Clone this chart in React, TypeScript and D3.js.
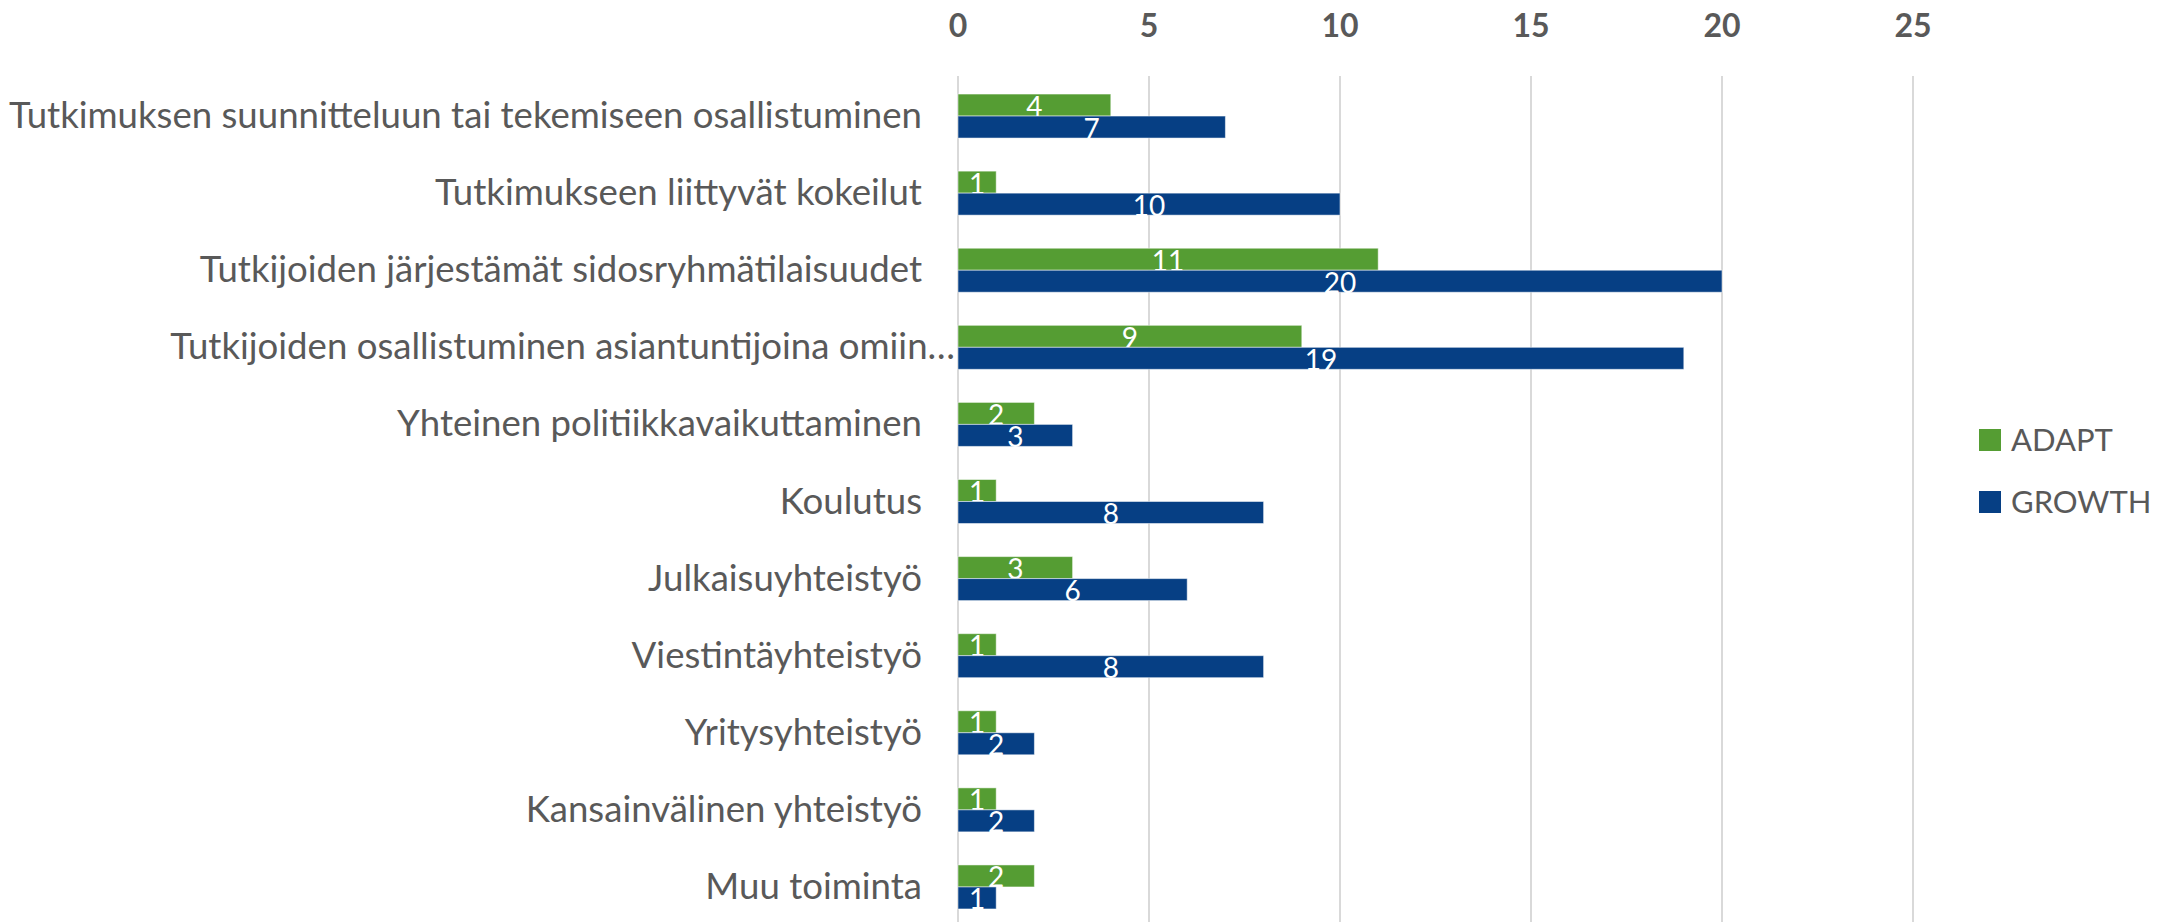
import React, { useEffect, useRef } from "react";
import * as d3 from "d3";

const categories = [
  "Tutkimuksen suunnitteluun tai tekemiseen osallistuminen",
  "Tutkimukseen liittyvät kokeilut",
  "Tutkijoiden järjestämät sidosryhmätilaisuudet",
  "Tutkijoiden osallistuminen asiantuntijoina omiin…",
  "Yhteinen politiikkavaikuttaminen",
  "Koulutus",
  "Julkaisuyhteistyö",
  "Viestintäyhteistyö",
  "Yritysyhteistyö",
  "Kansainvälinen yhteistyö",
  "Muu toiminta",
];

const adapt = [4, 1, 11, 9, 2, 1, 3, 1, 1, 1, 2];
const growth = [7, 10, 20, 19, 3, 8, 6, 8, 2, 2, 1];

const seriesNames = ["ADAPT", "GROWTH"];
const seriesColors = ["#559D33", "#063F84"];
const tickValues = [0, 5, 10, 15, 20, 25];

const App = () => {
  const svgRef = useRef<SVGSVGElement>(null);

  useEffect(() => {
    const width = 2167;
    const height = 922;
    const font = "'Source Sans Pro', Lato, sans-serif";
    const grey = "#595959";

    const svg = d3
      .select(svgRef.current)
      .attr("width", width)
      .attr("height", height)
      .style("font-family", font)
      .style("background", "#fff");

    svg.selectAll("*").remove();

    const x = d3.scaleLinear().domain([0, 25]).range([958, 1913]);
    const y = d3.scaleBand().domain(categories).range([77.5, 925.5]);
    const barBlock = 44;
    const inner = d3.scaleBand().domain(seriesNames).range([0, barBlock]);

    // gridlines
    svg
      .append("g")
      .selectAll("line")
      .data(tickValues)
      .join("line")
      .attr("x1", (d) => x(d))
      .attr("x2", (d) => x(d))
      .attr("y1", 76)
      .attr("y2", height)
      .attr("stroke", "#d9d9d9")
      .attr("stroke-width", 2);

    // tick labels on top
    svg
      .append("g")
      .selectAll("text")
      .data(tickValues)
      .join("text")
      .attr("x", (d) => x(d))
      .attr("y", 37)
      .attr("text-anchor", "middle")
      .attr("fill", grey)
      .style("font-size", "32px")
      .style("font-weight", "700")
      .text((d) => d);

    // category labels
    svg
      .append("g")
      .selectAll("text")
      .data(categories)
      .join("text")
      .attr("x", (d) => (d.endsWith("…") ? 955 : 922))
      .attr("y", (d) => y(d)! + y.bandwidth() / 2 + 12)
      .attr("text-anchor", "end")
      .attr("fill", grey)
      .style("font-size", "36.6px")
      .text((d) => d);

    const data = [adapt, growth];
    data.forEach((vals, si) => {
      const name = seriesNames[si];
      const g = svg.append("g");
      const top = (c: string) =>
        y(c)! + (y.bandwidth() - barBlock) / 2 + inner(name)!;
      g.selectAll("rect")
        .data(categories)
        .join("rect")
        .attr("x", x(0))
        .attr("y", (c) => top(c))
        .attr("width", (c, i) => x(vals[i]) - x(0))
        .attr("height", inner.bandwidth())
        .attr("fill", seriesColors[si])
        .attr("stroke", "#ffffff")
        .attr("stroke-opacity", 0.5)
        .attr("stroke-width", 1);
      g.selectAll("text")
        .data(categories)
        .join("text")
        .attr("x", (c, i) => (x(vals[i]) + x(0)) / 2)
        .attr("y", (c) => top(c) + inner.bandwidth() + 0.5)
        .attr("text-anchor", "middle")
        .attr("fill", "#ffffff")
        .style("font-size", "28px")
        .text((c, i) => vals[i]);
    });

    // legend
    const legend = svg
      .append("g")
      .selectAll("g")
      .data(seriesNames)
      .join("g")
      .attr("transform", (d, i) => `translate(1979, ${429 + i * 62})`);
    legend
      .append("rect")
      .attr("width", 22)
      .attr("height", 22)
      .attr("fill", (d, i) => seriesColors[i]);
    legend
      .append("text")
      .attr("x", 32)
      .attr("y", 22)
      .attr("fill", grey)
      .style("font-size", "31px")
      .text((d) => d);
  }, []);

  return (
    <div style={{ position: "absolute", left: 0, top: 0 }}>
      <svg ref={svgRef} style={{ display: "block" }}></svg>
    </div>
  );
};

export default App;
